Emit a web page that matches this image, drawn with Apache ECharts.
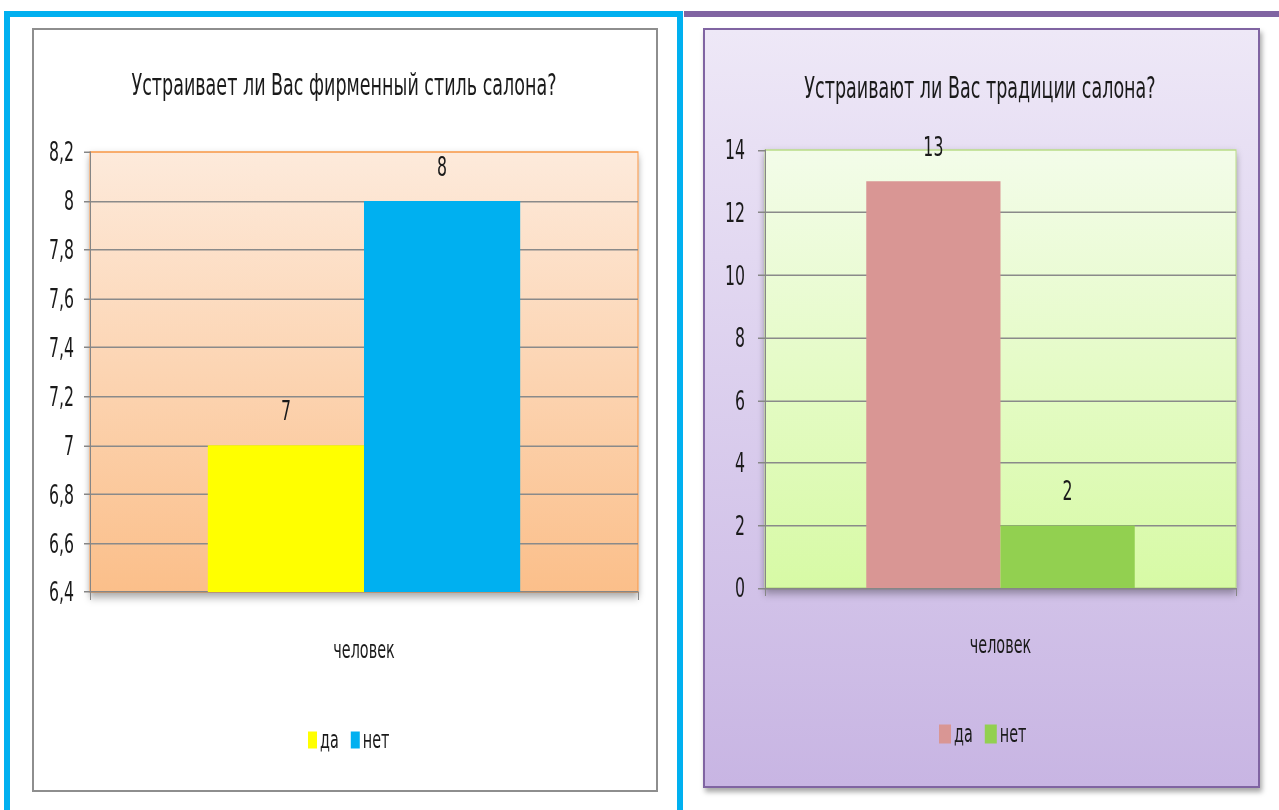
<!DOCTYPE html>
<html>
<head>
<meta charset="utf-8">
<script src="https://cdn.jsdelivr.net/npm/echarts@6/dist/echarts.min.js"></script>
<style>
  html, body { margin: 0; padding: 0; background: #ffffff; width: 1279px; height: 810px; overflow: hidden; }
  .abs { position: absolute; }
  #blueFrame { left: 4px; top: 11px; width: 667px; height: 820px; border: 6px solid #00B0F0; box-sizing: content-box; }
  #purpleLine { left: 684px; top: 11px; width: 595px; height: 6px; background: #8064A2; }
  #box1 { left: 32px; top: 28px; width: 622px; height: 760px; border: 2px solid #8E8E8E; background: #ffffff; }
  #box2 { left: 703px; top: 28px; width: 553px; height: 756px; border: 2px solid #8064A2;
          background: linear-gradient(to bottom, #EEE8F7 0%, #DCD0EE 45%, #C8B5E3 100%);
          box-shadow: 2px 4px 5px rgba(0,0,0,0.35); }
  /* Calibri-like tall, narrow lettering: the charts are drawn at 1/1.5 height and stretched */
  #c1, #c2 { left: 0; top: 0; width: 1279px; height: 540px; transform: scaleY(1.5); transform-origin: 0 0; }
</style>
</head>
<body>
<div id="blueFrame" class="abs"></div>
<div id="purpleLine" class="abs"></div>
<div id="box1" class="abs"></div>
<div id="box2" class="abs"></div>
<div id="c1" class="abs"></div>
<div id="c2" class="abs"></div>
<script>
const categories = ['человек'];
const seriesNames = ['да', 'нет'];
const leftTitle = 'Устраивает ли Вас фирменный стиль салона?';
const leftValues = [7, 8];
const leftColors = ['#FFFF00', '#00B0F0'];
const leftAxis = { min: 6.4, max: 8.2, interval: 0.2 };
const rightTitle = 'Устраивают ли Вас традиции салона?';
const rightValues = [13, 2];
const rightColors = ['#D99694', '#92D050'];
const rightAxis = { min: 0, max: 14, interval: 2 };

const FONT = '"DejaVu Sans Condensed", "Liberation Sans Narrow", "Noto Sans", sans-serif';
const S = 1.5; // vertical stretch applied by CSS
const y = v => v / S;

function makeOption(cfg) {
  return {
    backgroundColor: 'transparent',
    animation: false,
    title: {
      text: cfg.title, left: cfg.titleX, top: y(cfg.titleCY) - 10, textAlign: 'center', padding: 0,
      textStyle: { fontFamily: FONT, fontSize: 19.5, fontWeight: 'normal', color: '#1a1a1a' }
    },
    legend: {
      data: seriesNames, left: cfg.legendX, top: y(cfg.legendCY) - 8, padding: 0,
      itemWidth: cfg.legW, itemHeight: y(cfg.legH), itemGap: 12,
      icon: 'rect',
      textStyle: { fontFamily: FONT, fontSize: 16, color: '#1a1a1a', padding: [0, 0, 0, -2] }
    },
    grid: {
      left: cfg.grid[0], top: y(cfg.grid[1]), width: cfg.grid[2], height: y(cfg.grid[3]),
      show: true, borderColor: cfg.gridBorder, borderWidth: 1,
      backgroundColor: new echarts.graphic.LinearGradient(0, 0, 0, 1, [
        { offset: 0, color: cfg.bgTop }, { offset: 1, color: cfg.bgBottom }
      ]),
      shadowColor: 'rgba(0,0,0,0.35)', shadowBlur: 6, shadowOffsetY: 3
    },
    xAxis: {
      type: 'category', data: categories,
      axisLine: { lineStyle: { color: '#868686', width: 1 } },
      axisTick: { show: true, length: y(8), lineStyle: { color: '#868686' } },
      axisLabel: { margin: y(cfg.xLabelCY - cfg.grid[1] - cfg.grid[3]) - 8, fontFamily: FONT, fontSize: 16, color: '#1a1a1a' }
    },
    yAxis: {
      type: 'value', min: cfg.axis.min, max: cfg.axis.max, interval: cfg.axis.interval,
      axisLine: { show: true, lineStyle: { color: '#868686' } },
      axisTick: { show: true, length: cfg.tickLen, lineStyle: { color: '#868686' } },
      axisLabel: {
        margin: cfg.yMargin, fontFamily: FONT, fontSize: 17.5, color: '#1a1a1a',
        formatter: v => String(Math.round(v * 10) / 10).replace('.', ',')
      },
      splitLine: { show: true, showMaxLine: false, showMinLine: false, lineStyle: { color: '#8A8A8A', width: 1 } }
    },
    series: seriesNames.map((n, i) => ({
      name: n, type: 'bar',
      data: [cfg.values[i]],
      itemStyle: { color: cfg.colors[i] },
      barGap: '0%', barCategoryGap: '43%',
      label: {
        show: true, position: 'top', distance: 14,
        fontFamily: FONT, fontSize: 17.5, color: '#1a1a1a'
      }
    }))
  };
}

const c1 = echarts.init(document.getElementById('c1'), null, { renderer: 'svg' });
c1.setOption(makeOption({
  title: leftTitle, titleX: 344, titleCY: 85,
  legendX: 308, legendCY: 740, legW: 9, legH: 17,
  grid: [90, 152, 548, 440], gridBorder: '#F79646',
  bgTop: '#FDEADB', bgBottom: '#FBBF8A',
  xLabelCY: 650, yMargin: 16, tickLen: 6,
  axis: leftAxis, values: leftValues, colors: leftColors
}));

const c2 = echarts.init(document.getElementById('c2'), null, { renderer: 'svg' });
c2.setOption(makeOption({
  title: rightTitle, titleX: 980, titleCY: 88,
  legendX: 939, legendCY: 734, legW: 12, legH: 19,
  grid: [765, 150, 471, 438], gridBorder: '#B9DB86',
  bgTop: '#F3FCE9', bgBottom: '#D7FAA5',
  xLabelCY: 645, yMargin: 20, tickLen: 7,
  axis: rightAxis, values: rightValues, colors: rightColors
}));
</script>
</body>
</html>
